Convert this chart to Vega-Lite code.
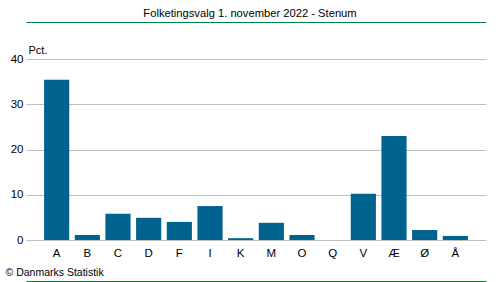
{
  "$schema": "https://vega.github.io/schema/vega-lite/v6.json",
  "width": 460,
  "height": 181,
  "autosize": "none",
  "padding": {"left": 26, "top": 59, "right": 14, "bottom": 42},
  "background": "white",
  "config": {"view": {"stroke": null}, "font": "Liberation Sans"},
  "title": {
    "text": "Folketingsvalg 1. november 2022 - Stenum",
    "fontSize": 11.2,
    "fontWeight": "normal",
    "color": "#000000",
    "anchor": "middle",
    "frame": "group",
    "dx": -6,
    "offset": 3
  },
  "data": {
    "values": [
      {"parti": "A", "pct": 35.4},
      {"parti": "B", "pct": 1.1},
      {"parti": "C", "pct": 5.8},
      {"parti": "D", "pct": 4.9},
      {"parti": "F", "pct": 4.0},
      {"parti": "I", "pct": 7.5},
      {"parti": "K", "pct": 0.4},
      {"parti": "M", "pct": 3.8},
      {"parti": "O", "pct": 1.1},
      {"parti": "Q", "pct": 0},
      {"parti": "V", "pct": 10.2},
      {"parti": "Æ", "pct": 23.0},
      {"parti": "Ø", "pct": 2.2},
      {"parti": "Å", "pct": 0.9}
    ]
  },
  "layer": [
    {
      "mark": {"type": "bar", "color": "#00628f"},
      "encoding": {
        "x": {
          "field": "parti",
          "type": "nominal",
          "sort": null,
          "scale": {"paddingInner": 0.18, "paddingOuter": 0.59},
          "axis": {
            "orient": "bottom",
            "offset": 41,
            "domainColor": "#008040",
            "domainWidth": 1,
            "ticks": false,
            "labelAngle": 0,
            "labelPadding": -34,
            "labelFontSize": 11.5,
            "labelColor": "#000000",
            "title": "© Danmarks Statistik",
            "titleFontWeight": "normal",
            "titleFontSize": 10.5,
            "titleColor": "#000000",
            "titleAnchor": "start",
            "titleAlign": "left",
            "titleBaseline": "alphabetic",
            "titleX": -21,
            "titleY": -6
          }
        },
        "y": {
          "field": "pct",
          "type": "quantitative",
          "scale": {"domain": [0, 40], "nice": false},
          "axis": {
            "values": [0, 10, 20, 30, 40],
            "domain": false,
            "ticks": false,
            "gridColor": "#bfbfbf",
            "labelPadding": 3,
            "labelFontSize": 11.5,
            "labelColor": "#000000",
            "title": "Pct.",
            "titleAngle": 0,
            "titleAlign": "left",
            "titleBaseline": "alphabetic",
            "titleFontWeight": "normal",
            "titleFontSize": 11,
            "titleColor": "#000000",
            "titleX": 2,
            "titleY": -6
          }
        }
      }
    },
    {
      "mark": {"type": "bar", "opacity": 0},
      "encoding": {
        "x": {
          "field": "parti",
          "type": "nominal",
          "sort": null,
          "axis": {
            "orient": "top",
            "offset": 37,
            "domainColor": "#008040",
            "domainWidth": 1,
            "labels": false,
            "ticks": false,
            "title": null
          }
        },
        "y": {"field": "pct", "type": "quantitative"}
      }
    }
  ],
  "resolve": {"axis": {"x": "independent"}}
}
